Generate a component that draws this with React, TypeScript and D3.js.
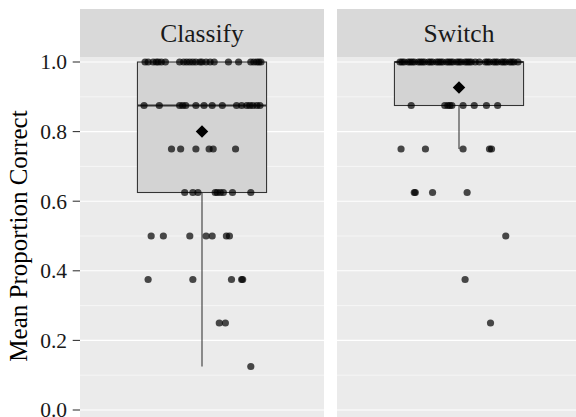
import React from "react";
import * as d3 from "d3";

// facets
const facets = ["Classify", "Switch"];

// box summaries (lower whisker, Q1, median, Q3, upper whisker, mean)
const whiskerLo = [0.125, 0.75];
const q1 = [0.625, 0.875];
const median = [0.875, 1.0];
const q3 = [1.0, 1.0];
const whiskerHi = [1.0, 1.0];
const means = [0.8, 0.927];

// jittered points: [value, horizontal jitter offset]
const classifyPts: [number, number][] = [
  [1, -0.28], [1, -0.265], [1, -0.24], [1, -0.225], [1, -0.215], [1, -0.2], [1, -0.18],
  [1, -0.11], [1, -0.09], [1, -0.075], [1, -0.06], [1, -0.045], [1, -0.03], [1, -0.01],
  [1, 0.0], [1, 0.02], [1, 0.04], [1, 0.06], [1, 0.13], [1, 0.18], [1, 0.24], [1, 0.255],
  [1, 0.27], [1, 0.28], [1, 0.29],
  [0.875, -0.285], [0.875, -0.21], [0.875, -0.11], [0.875, -0.095], [0.875, -0.08],
  [0.875, -0.03], [0.875, 0.01], [0.875, 0.05], [0.875, 0.1], [0.875, 0.17],
  [0.875, 0.195], [0.875, 0.22], [0.875, 0.235], [0.875, 0.25], [0.875, 0.27], [0.875, 0.285],
  [0.75, -0.15], [0.75, -0.105], [0.75, -0.03], [0.75, 0.035], [0.75, 0.055], [0.75, 0.165],
  [0.625, -0.085], [0.625, -0.045], [0.625, -0.02], [0.625, 0.065], [0.625, 0.075],
  [0.625, 0.09], [0.625, 0.105], [0.625, 0.15], [0.625, 0.24],
  [0.5, -0.25], [0.5, -0.19], [0.5, -0.06], [0.5, 0.02], [0.5, 0.05], [0.5, 0.12], [0.5, 0.135],
  [0.375, -0.265], [0.375, -0.045], [0.375, 0.145], [0.375, 0.195], [0.375, 0.2],
  [0.25, 0.085], [0.25, 0.115],
  [0.125, 0.24],
];

const switchPts: [number, number][] = [
  [1, -0.29], [1, -0.28], [1, -0.27], [1, -0.25], [1, -0.24], [1, -0.23], [1, -0.22],
  [1, -0.2], [1, -0.19], [1, -0.18], [1, -0.17], [1, -0.15], [1, -0.14], [1, -0.13],
  [1, -0.11], [1, -0.1], [1, -0.09], [1, -0.08], [1, -0.06], [1, -0.05], [1, -0.04],
  [1, -0.03], [1, -0.01], [1, 0.0], [1, 0.01], [1, 0.03], [1, 0.04], [1, 0.05], [1, 0.06],
  [1, 0.08], [1, 0.1], [1, 0.13], [1, 0.14], [1, 0.15], [1, 0.17], [1, 0.18], [1, 0.19],
  [1, 0.21], [1, 0.22], [1, 0.23], [1, 0.25], [1, 0.26], [1, 0.27], [1, 0.29],
  [0.875, -0.235], [0.875, -0.07], [0.875, -0.055], [0.875, -0.045], [0.875, -0.035],
  [0.875, 0.02], [0.875, 0.075], [0.875, 0.135], [0.875, 0.19],
  [0.75, -0.285], [0.75, -0.165], [0.75, 0.02], [0.75, 0.15], [0.75, 0.16],
  [0.625, -0.22], [0.625, -0.215], [0.625, -0.13], [0.625, 0.04],
  [0.5, 0.23],
  [0.375, 0.03],
  [0.25, 0.155],
];

const points = [classifyPts, switchPts];

const yTicks = [0, 0.2, 0.4, 0.6, 0.8, 1.0];
const yMinor = [0.1, 0.3, 0.5, 0.7, 0.9];

const W = 576;
const H = 417;
const FONT = "Liberation Serif, DejaVu Serif, serif";

const App: React.FC = () => {
  const panelTop = 57;
  const panelBottom = 430;
  const stripTop = 9;
  const panelW = 244;
  const panelX = [80, 337];
  const boxW = 0.635;

  const y = d3.scaleLinear().domain([0, 1]).range([410, 62]);

  return (
    <svg
      width={W}
      height={H}
      style={{ position: "fixed", left: 0, top: 0, background: "#fff", fontFamily: FONT }}
    >
      {/* y axis title */}
      <text
        transform={`translate(27, ${y(0.5)}) rotate(-90)`}
        textAnchor="middle"
        fontSize={25}
        fill="#000"
        style={{ fontFamily: FONT }}
      >
        Mean Proportion Correct
      </text>
      {yTicks.map((t) => (
        <g key={t}>
          <text x={67} y={y(t)} dy="0.34em" textAnchor="end" fontSize={21.5} fill="#1a1a1a" style={{ fontFamily: FONT }}>
            {d3.format(".1f")(t)}
          </text>
          <line x1={72.7} x2={80} y1={y(t)} y2={y(t)} stroke="#333" strokeWidth={1.07} />
        </g>
      ))}

      {facets.map((f, i) => {
        const x = d3.scaleLinear().domain([0.4, 1.6]).range([panelX[i], panelX[i] + panelW]);
        const cx = x(1);
        const bx0 = x(1 - boxW / 2);
        const bx1 = x(1 + boxW / 2);
        return (
          <g key={f}>
            <rect x={panelX[i]} y={stripTop} width={panelW} height={panelTop - stripTop} fill="#D9D9D9" />
            <text x={cx} y={42} textAnchor="middle" fontSize={25.5} fill="#1a1a1a" style={{ fontFamily: FONT }}>
              {f}
            </text>
            <rect x={panelX[i]} y={panelTop} width={panelW} height={panelBottom - panelTop} fill="#EBEBEB" />
            {yMinor.map((t) => (
              <line key={t} x1={panelX[i]} x2={panelX[i] + panelW} y1={y(t)} y2={y(t)} stroke="#fff" strokeWidth={0.55} />
            ))}
            {yTicks.map((t) => (
              <line key={t} x1={panelX[i]} x2={panelX[i] + panelW} y1={y(t)} y2={y(t)} stroke="#fff" strokeWidth={1.1} />
            ))}
            {/* whiskers */}
            <line x1={cx} x2={cx} y1={y(whiskerLo[i])} y2={y(q1[i])} stroke="#333" strokeWidth={1.07} />
            <line x1={cx} x2={cx} y1={y(q3[i])} y2={y(whiskerHi[i])} stroke="#333" strokeWidth={1.07} />
            {/* box */}
            <rect
              x={bx0}
              y={y(q3[i])}
              width={bx1 - bx0}
              height={y(q1[i]) - y(q3[i])}
              fill="#D3D3D3"
              stroke="#333"
              strokeWidth={1.07}
            />
            <line x1={bx0} x2={bx1} y1={y(median[i])} y2={y(median[i])} stroke="#333" strokeWidth={2.1} />
            {/* jittered points */}
            {points[i].map(([v, j], k) => (
              <circle key={k} cx={x(1 + j)} cy={y(v)} r={3.6} fill="#000" fillOpacity={0.7} />
            ))}
            {/* mean */}
            <path
              d={d3.symbol(d3.symbolDiamond2, 100)()!}
              transform={`translate(${cx}, ${y(means[i])})`}
              fill="#000"
            />
          </g>
        );
      })}
    </svg>
  );
};

export default App;
